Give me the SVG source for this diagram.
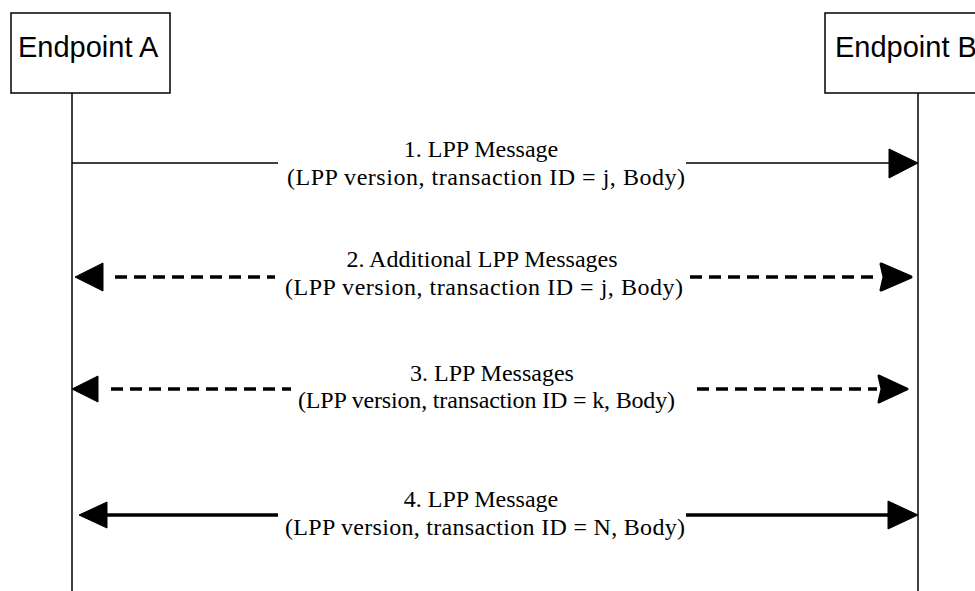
<svg xmlns="http://www.w3.org/2000/svg" width="975" height="591" viewBox="0 0 975 591">
  <style>
    .box { fill: #fff; stroke: #000; stroke-width: 1.5; }
    .life { stroke: #000; stroke-width: 1.5; fill: none; }
    .name { font-family: "Liberation Sans", Arial, sans-serif; font-size: 29px; fill: #000; }
    .lbl { font-family: "Liberation Serif", "Times New Roman", serif; font-size: 24px; fill: #000; text-anchor: middle; }
    .thin { stroke: #000; stroke-width: 1.3; fill: none; }
    .dash { stroke: #000; stroke-width: 3.4; fill: none; stroke-dasharray: 12 7; }
    .thick { stroke: #000; stroke-width: 3.5; fill: none; }
    .head { fill: #000; stroke: #000; stroke-width: 1; stroke-linejoin: round; }
    .blob { fill: #000; stroke: #000; stroke-width: 3; stroke-linejoin: round; }
  </style>

  <!-- endpoints with lifelines -->
  <g id="endpoint-a">
    <rect class="box" x="11" y="13" width="159" height="80"/>
    <text class="name" x="18" y="57">Endpoint A</text>
    <line class="life" x1="72" y1="93" x2="72" y2="591"/>
  </g>
  <g id="endpoint-b">
    <rect class="box" x="825" y="13" width="160" height="80"/>
    <text class="name" x="835" y="57">Endpoint B</text>
    <line class="life" x1="918" y1="93" x2="918" y2="591"/>
  </g>

  <!-- message arrows -->
  <g id="connectors">
    <!-- 1: A to B, thin solid -->
    <line class="thin" x1="72" y1="163" x2="278" y2="163"/>
    <line class="thin" x1="686" y1="163" x2="890" y2="163"/>
    <polygon class="head" points="918,163 889,149 889,178"/>

    <!-- 2: both ways, dashed -->
    <polygon class="head" points="75,277 103,263 103,291"/>
    <line class="dash" x1="115" y1="277" x2="275" y2="277"/>
    <line class="dash" x1="686" y1="277" x2="878" y2="277" stroke-dashoffset="15"/>
    <polygon class="blob" points="911,277 881,264 884,277 881,290"/>

    <!-- 3: both ways, dashed -->
    <polygon class="head" points="72,389 98,376 98,402"/>
    <line class="dash" x1="111" y1="389" x2="291" y2="389"/>
    <line class="dash" x1="697" y1="389" x2="877" y2="389"/>
    <polygon class="blob" points="907,389 879,376 882,389 879,402"/>

    <!-- 4: both ways, thick solid -->
    <polygon class="head" points="79,515 107,502 107,528"/>
    <line class="thick" x1="105" y1="515" x2="278" y2="515"/>
    <line class="thick" x1="686" y1="515" x2="890" y2="515"/>
    <polygon class="head" points="918,515 888,501 888,529"/>
  </g>

  <!-- message labels -->
  <g id="labels">
    <text class="lbl" x="481" y="157">1. LPP Message</text>
    <text class="lbl" x="486" y="185" textLength="398" lengthAdjust="spacing">(LPP version, transaction ID = j, Body)</text>

    <text class="lbl" x="482" y="267">2. Additional LPP Messages</text>
    <text class="lbl" x="484" y="295" textLength="398" lengthAdjust="spacing">(LPP version, transaction ID = j, Body)</text>

    <text class="lbl" x="492" y="381">3. LPP Messages</text>
    <text class="lbl" x="486.5" y="408" textLength="377" lengthAdjust="spacing">(LPP version, transaction ID = k, Body)</text>

    <text class="lbl" x="481" y="507">4. LPP Message</text>
    <text class="lbl" x="485" y="535" textLength="400" lengthAdjust="spacing">(LPP version, transaction ID = N, Body)</text>
  </g>
</svg>
